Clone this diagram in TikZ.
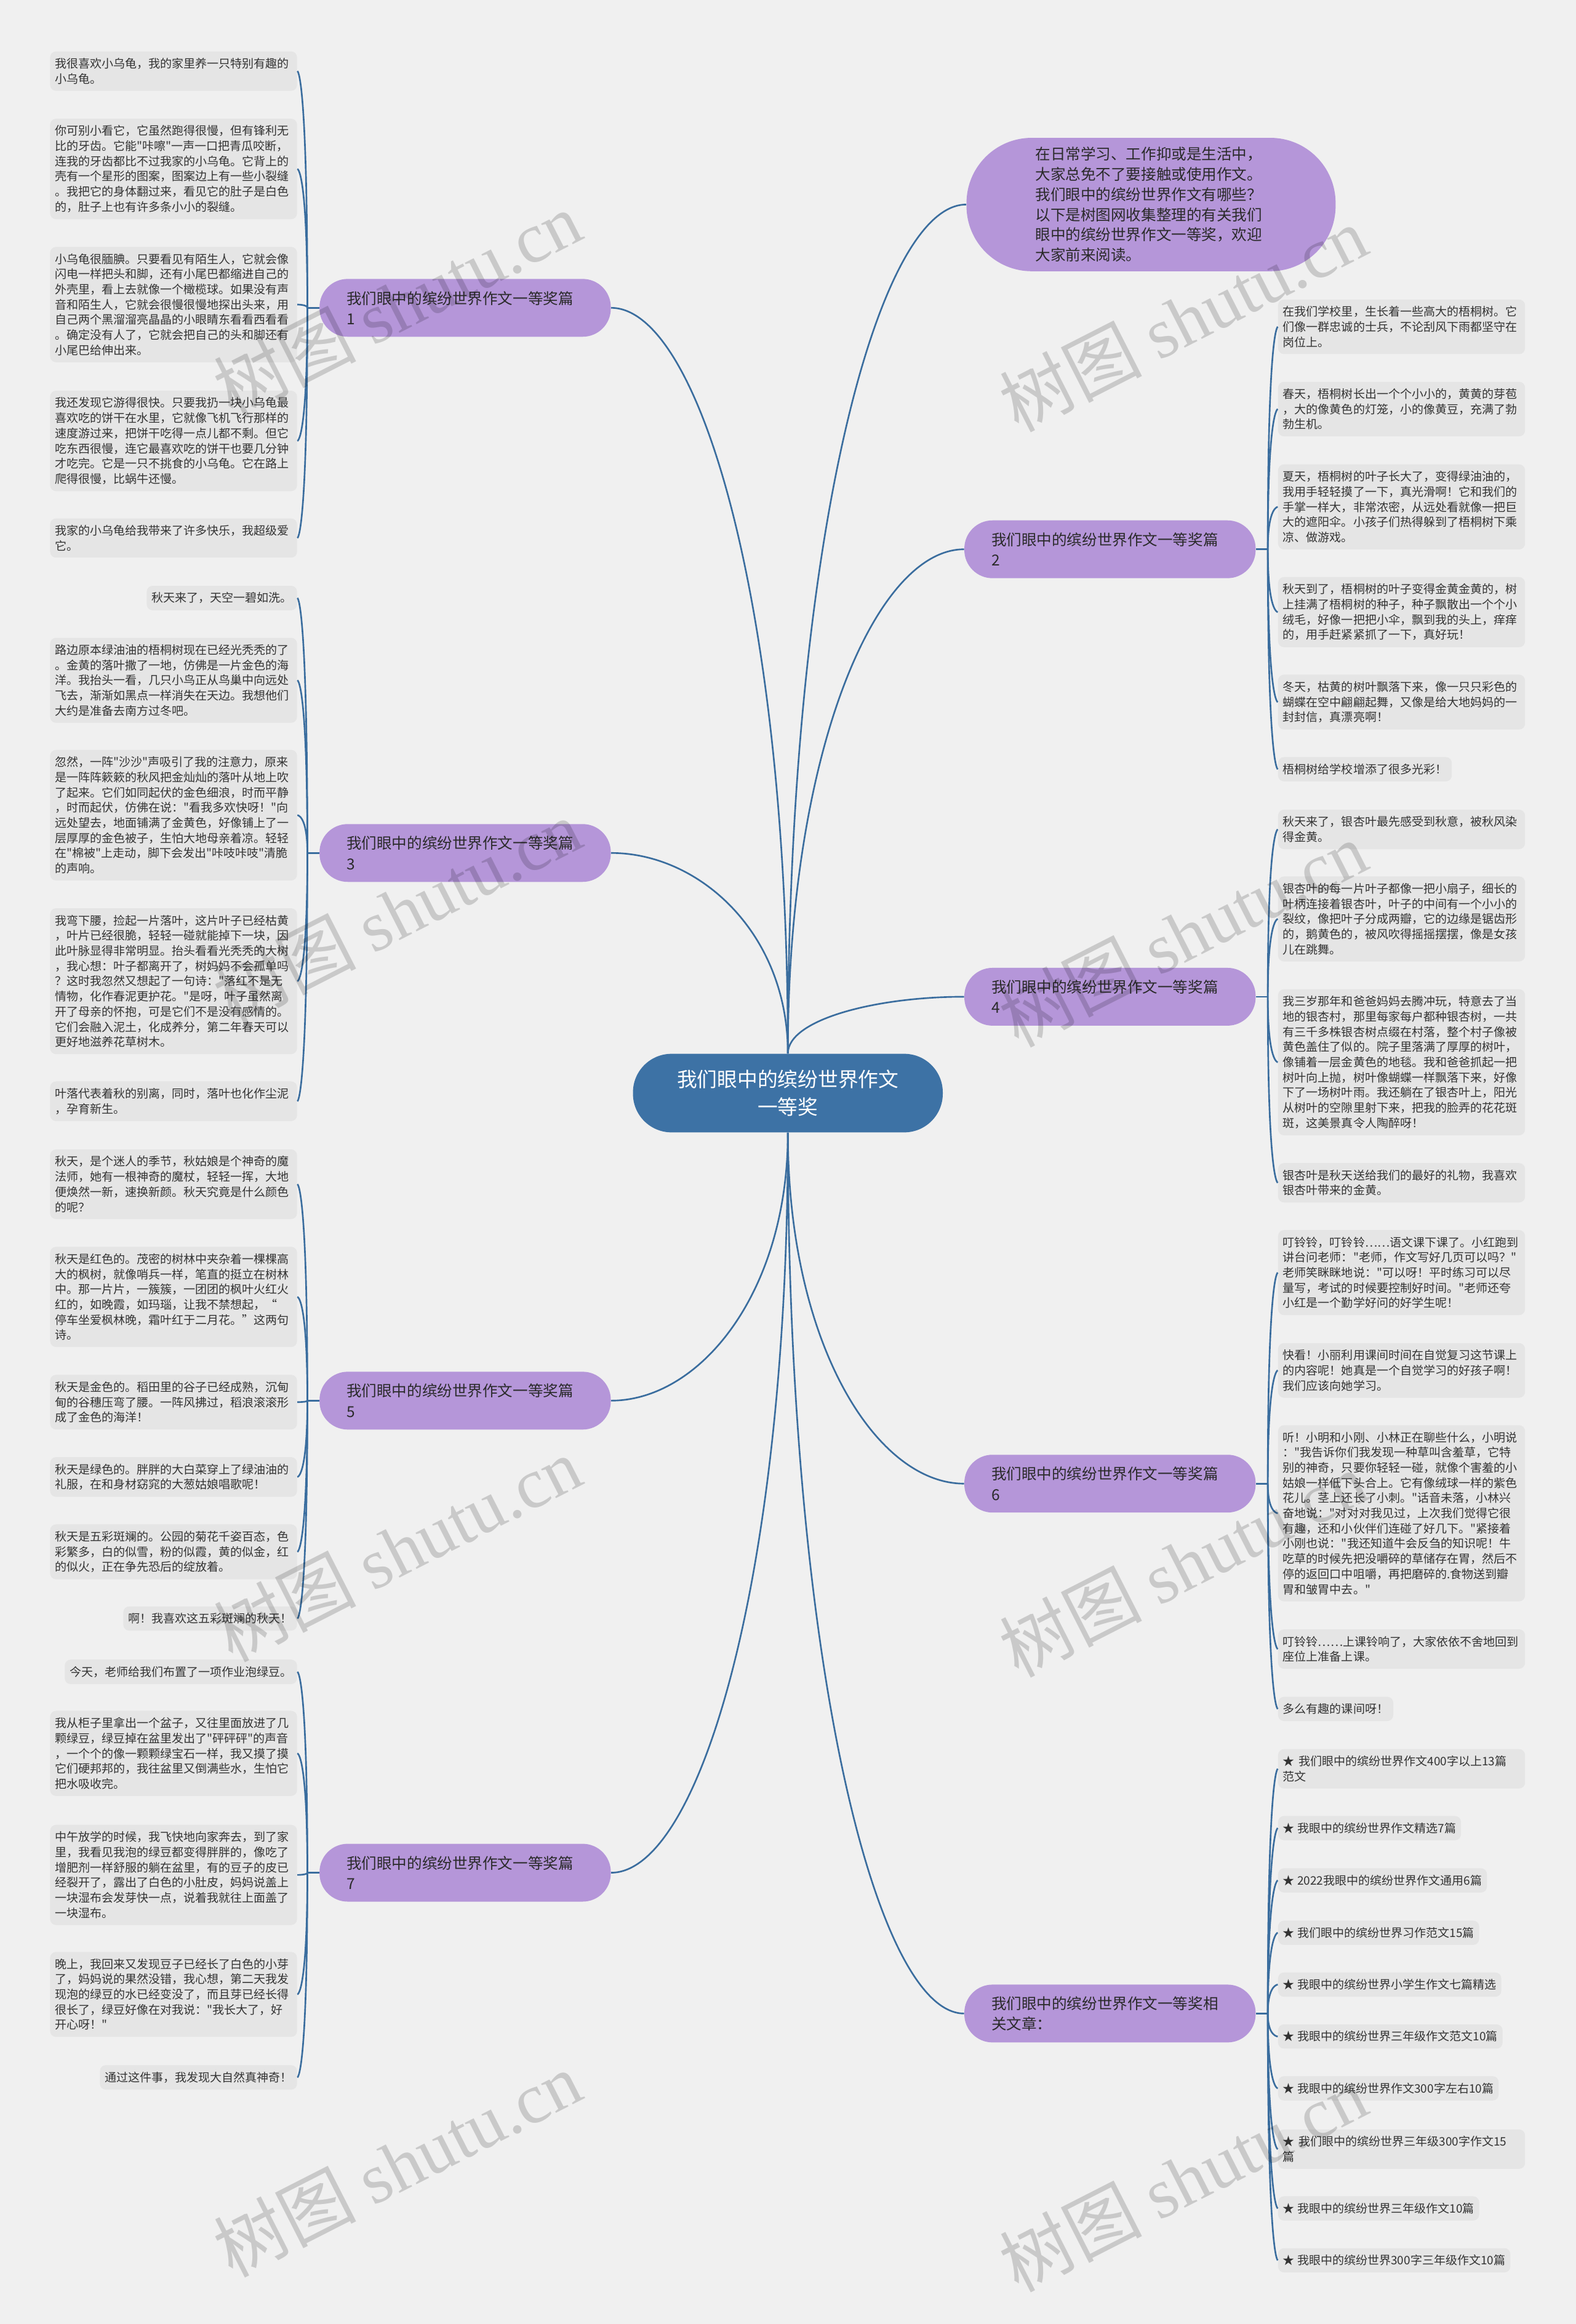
\documentclass[tikz,border=0pt]{standalone}
\usepackage{fontspec}
\setmainfont{Noto Sans CJK SC}[Ligatures=TeXOff]
\newfontfamily\latinserif{Liberation Serif}
\usepackage{tikz}
\usetikzlibrary{calc}
\definecolor{CanvasGray}{HTML}{F0F0F0}
\definecolor{LeafGray}{HTML}{E5E5E5}
\definecolor{TopicPurple}{HTML}{B596D9}
\definecolor{RootBlue}{HTML}{3D72A5}
\definecolor{LinkBlue}{HTML}{3A6D9E}
\definecolor{InkGray}{HTML}{333333}
\definecolor{TopicInk}{HTML}{2A2A2A}

\begin{document}
\begin{tikzpicture}[x=1pt, y=-1pt, every node/.style={inner sep=0pt},
  leaf/.style={fill=LeafGray, rounded corners=4pt, text=InkGray, align=left,
    font=\fontsize{7.9}{10.25}\selectfont, inner xsep=3.3pt, inner ysep=4.5pt},
  leafwide/.style={leaf, text width=160pt},
  topic/.style={fill=TopicPurple, rounded corners=19pt, text=TopicInk, align=left,
    font=\fontsize{10.2}{13.8}\selectfont, text width=160pt, inner xsep=18.25pt, minimum height=39pt},
  wire/.style={draw=LinkBlue, line width=1.1pt},
  link/.style={wire, to path={.. controls ($(\tikztostart)!0.6!(\tikztostart|-\tikztotarget)$) and ($(\tikztotarget)!0.5!(\tikztotarget-|\tikztostart)$) .. (\tikztotarget)}},
  leaflink/.style={wire, to path={.. controls (\tikztostart|-\tikztotarget) and (\tikztotarget) .. (\tikztotarget)}},
  stamp/.style={rotate=27, text=black, text opacity=0.16, font=\fontsize{48}{48}\selectfont}]
  \fill[CanvasGray] (0,0) rectangle (1063,1568);
  \useasboundingbox (0,0) rectangle (1063,1568);

  \node[fill=RootBlue, rounded corners=26pt, text=white, align=center, font=\fontsize{13.6}{18.5}\selectfont,
    minimum width=209pt, minimum height=53pt] (root) at (531.5,737.5) {我们眼中的缤纷世界作文\\一等奖};
  \node[topic, rounded corners=44pt, text width=156pt, inner xsep=46.5pt, minimum height=90pt,
    font=\fontsize{10.2}{13.6}\selectfont] (intro) at (776.5,138)
    {在日常学习、工作抑或是生活中，\\大家总免不了要接触或使用作文。\\我们眼中的缤纷世界作文有哪些？\\以下是树图网收集整理的有关我们\\眼中的缤纷世界作文一等奖，欢迎\\大家前来阅读。};

  \node[topic] (art1) at (313.8,207.7) {我们眼中的缤纷世界作文一等奖篇\\1};
  \node[topic] (art3) at (313.8,575.5) {我们眼中的缤纷世界作文一等奖篇\\3};
  \node[topic] (art5) at (313.8,945) {我们眼中的缤纷世界作文一等奖篇\\5};
  \node[topic] (art7) at (313.8,1263.5) {我们眼中的缤纷世界作文一等奖篇\\7};
  \node[topic] (art2) at (748.8,370.6) {我们眼中的缤纷世界作文一等奖篇\\2};
  \node[topic] (art4) at (748.8,672.5) {我们眼中的缤纷世界作文一等奖篇\\4};
  \node[topic] (art6) at (748.8,1001) {我们眼中的缤纷世界作文一等奖篇\\6};
  \node[topic] (rel) at (748.8,1358.5) {我们眼中的缤纷世界作文一等奖相\\关文章：};

  \node[leafwide, anchor=east] (t1a) at (200.6,48) {我很喜欢小乌龟，我的家里养一只特别有趣的\\小乌龟。};
  \node[leafwide, anchor=east] (t1b) at (200.6,114) {你可别小看它，它虽然跑得很慢，但有锋利无\\比的牙齿。它能"咔嚓"一声一口把青瓜咬断，\\连我的牙齿都比不过我家的小乌龟。它背上的\\壳有一个星形的图案，图案边上有一些小裂缝\\。我把它的身体翻过来，看见它的肚子是白色\\的，肚子上也有许多条小小的裂缝。};
  \node[leafwide, anchor=east] (t1c) at (200.6,205.5) {小乌龟很腼腆。只要看见有陌生人，它就会像\\闪电一样把头和脚，还有小尾巴都缩进自己的\\外壳里，看上去就像一个橄榄球。如果没有声\\音和陌生人，它就会很慢很慢地探出头来，用\\自己两个黑溜溜亮晶晶的小眼睛东看看西看看\\。确定没有人了，它就会把自己的头和脚还有\\小尾巴给伸出来。};
  \node[leafwide, anchor=east] (t1d) at (200.6,297.5) {我还发现它游得很快。只要我扔一块小乌龟最\\喜欢吃的饼干在水里，它就像飞机飞行那样的\\速度游过来，把饼干吃得一点儿都不剩。但它\\吃东西很慢，连它最喜欢吃的饼干也要几分钟\\才吃完。它是一只不挑食的小乌龟。它在路上\\爬得很慢，比蜗牛还慢。};
  \node[leafwide, anchor=east] (t1e) at (200.6,363) {我家的小乌龟给我带来了许多快乐，我超级爱\\它。};

  \node[leaf, anchor=east] (t3a) at (200.6,403.5) {秋天来了，天空一碧如洗。};
  \node[leafwide, anchor=east] (t3b) at (200.6,459) {路边原本绿油油的梧桐树现在已经光秃秃的了\\。金黄的落叶撒了一地，仿佛是一片金色的海\\洋。我抬头一看，几只小鸟正从鸟巢中向远处\\飞去，渐渐如黑点一样消失在天边。我想他们\\大约是准备去南方过冬吧。};
  \node[leafwide, anchor=east] (t3c) at (200.6,550) {忽然，一阵"沙沙"声吸引了我的注意力，原来\\是一阵阵簌簌的秋风把金灿灿的落叶从地上吹\\了起来。它们如同起伏的金色细浪，时而平静\\，时而起伏，仿佛在说："看我多欢快呀！"向\\远处望去，地面铺满了金黄色，好像铺上了一\\层厚厚的金色被子，生怕大地母亲着凉。轻轻\\在"棉被"上走动，脚下会发出"咔吱咔吱"清脆\\的声响。};
  \node[leafwide, anchor=east] (t3d) at (200.6,662) {我弯下腰，捡起一片落叶，这片叶子已经枯黄\\，叶片已经很脆，轻轻一碰就能掉下一块，因\\此叶脉显得非常明显。抬头看看光秃秃的大树\\，我心想：叶子都离开了，树妈妈不会孤单吗\\？这时我忽然又想起了一句诗："落红不是无\\情物，化作春泥更护花。"是呀，叶子虽然离\\开了母亲的怀抱，可是它们不是没有感情的。\\它们会融入泥土，化成养分，第二年春天可以\\更好地滋养花草树木。};
  \node[leafwide, anchor=east] (t3e) at (200.6,743) {叶落代表着秋的别离，同时，落叶也化作尘泥\\，孕育新生。};

  \node[leafwide, anchor=east] (t5a) at (200.6,799) {秋天，是个迷人的季节，秋姑娘是个神奇的魔\\法师，她有一根神奇的魔杖，轻轻一挥，大地\\便焕然一新，速换新颜。秋天究竟是什么颜色\\的呢？};
  \node[leafwide, anchor=east] (t5b) at (200.6,875) {秋天是红色的。茂密的树林中夹杂着一棵棵高\\大的枫树，就像哨兵一样，笔直的挺立在树林\\中。那一片片，一簇簇，一团团的枫叶火红火\\红的，如晚霞，如玛瑙，让我不禁想起，“\\停车坐爱枫林晚，霜叶红于二月花。”这两句\\诗。};
  \node[leafwide, anchor=east] (t5c) at (200.6,946) {秋天是金色的。稻田里的谷子已经成熟，沉甸\\甸的谷穗压弯了腰。一阵风拂过，稻浪滚滚形\\成了金色的海洋！};
  \node[leafwide, anchor=east] (t5d) at (200.6,996.5) {秋天是绿色的。胖胖的大白菜穿上了绿油油的\\礼服，在和身材窈窕的大葱姑娘唱歌呢！};
  \node[leafwide, anchor=east] (t5e) at (200.6,1047) {秋天是五彩斑斓的。公园的菊花千姿百态，色\\彩繁多，白的似雪，粉的似霞，黄的似金，红\\的似火，正在争先恐后的绽放着。};
  \node[leaf, anchor=east] (t5f) at (200.6,1092) {啊！我喜欢这五彩斑斓的秋天！};

  \node[leaf, anchor=east] (t7a) at (200.6,1128) {今天，老师给我们布置了一项作业泡绿豆。};
  \node[leafwide, anchor=east] (t7b) at (200.6,1183) {我从柜子里拿出一个盆子，又往里面放进了几\\颗绿豆，绿豆掉在盆里发出了"砰砰砰"的声音\\，一个个的像一颗颗绿宝石一样，我又摸了摸\\它们硬邦邦的，我往盆里又倒满些水，生怕它\\把水吸收完。};
  \node[leafwide, anchor=east] (t7c) at (200.6,1265) {中午放学的时候，我飞快地向家奔去，到了家\\里，我看见我泡的绿豆都变得胖胖的，像吃了\\增肥剂一样舒服的躺在盆里，有的豆子的皮已\\经裂开了，露出了白色的小肚皮，妈妈说盖上\\一块湿布会发芽快一点，说着我就往上面盖了\\一块湿布。};
  \node[leafwide, anchor=east] (t7d) at (200.6,1345.6) {晚上，我回来又发现豆子已经长了白色的小芽\\了，妈妈说的果然没错，我心想，第二天我发\\现泡的绿豆的水已经变没了，而且芽已经长得\\很长了，绿豆好像在对我说："我长大了，好\\开心呀！"};
  \node[leaf, anchor=east] (t7e) at (200.6,1401.6) {通过这件事，我发现大自然真神奇！};

  \node[leafwide, anchor=west] (t2a) at (862,220.5) {在我们学校里，生长着一些高大的梧桐树。它\\们像一群忠诚的士兵，不论刮风下雨都坚守在\\岗位上。};
  \node[leafwide, anchor=west] (t2b) at (862,276) {春天，梧桐树长出一个个小小的，黄黄的芽苞\\，大的像黄色的灯笼，小的像黄豆，充满了勃\\勃生机。};
  \node[leafwide, anchor=west] (t2c) at (862,342) {夏天，梧桐树的叶子长大了，变得绿油油的，\\我用手轻轻摸了一下，真光滑啊！它和我们的\\手掌一样大，非常浓密，从远处看就像一把巨\\大的遮阳伞。小孩子们热得躲到了梧桐树下乘\\凉、做游戏。};
  \node[leafwide, anchor=west] (t2d) at (862,413) {秋天到了，梧桐树的叶子变得金黄金黄的，树\\上挂满了梧桐树的种子，种子飘散出一个个小\\绒毛，好像一把把小伞，飘到我的头上，痒痒\\的，用手赶紧紧抓了一下，真好玩！};
  \node[leafwide, anchor=west] (t2e) at (862,473.7) {冬天，枯黄的树叶飘落下来，像一只只彩色的\\蝴蝶在空中翩翩起舞，又像是给大地妈妈的一\\封封信，真漂亮啊！};
  \node[leaf, anchor=west] (t2f) at (862,519) {梧桐树给学校增添了很多光彩！};

  \node[leafwide, anchor=west] (t4a) at (862,559.6) {秋天来了，银杏叶最先感受到秋意，被秋风染\\得金黄。};
  \node[leafwide, anchor=west] (t4b) at (862,620) {银杏叶的每一片叶子都像一把小扇子，细长的\\叶柄连接着银杏叶，叶子的中间有一个小小的\\裂纹，像把叶子分成两瓣，它的边缘是锯齿形\\的，鹅黄色的，被风吹得摇摇摆摆，像是女孩\\儿在跳舞。};
  \node[leafwide, anchor=west] (t4c) at (862,716.7) {我三岁那年和爸爸妈妈去腾冲玩，特意去了当\\地的银杏村，那里每家每户都种银杏树，一共\\有三千多株银杏树点缀在村落，整个村子像被\\黄色盖住了似的。院子里落满了厚厚的树叶，\\像铺着一层金黄色的地毯。我和爸爸抓起一把\\树叶向上抛，树叶像蝴蝶一样飘落下来，好像\\下了一场树叶雨。我还躺在了银杏叶上，阳光\\从树叶的空隙里射下来，把我的脸弄的花花斑\\斑，这美景真令人陶醉呀！};
  \node[leafwide, anchor=west] (t4d) at (862,798) {银杏叶是秋天送给我们的最好的礼物，我喜欢\\银杏叶带来的金黄。};

  \node[leafwide, anchor=west] (t6a) at (862,858.6) {叮铃铃，叮铃铃……语文课下课了。小红跑到\\讲台问老师："老师，作文写好几页可以吗？"\\老师笑眯眯地说："可以呀！平时练习可以尽\\量写，考试的时候要控制好时间。"老师还夸\\小红是一个勤学好问的好学生呢！};
  \node[leafwide, anchor=west] (t6b) at (862,924.6) {快看！小丽利用课间时间在自觉复习这节课上\\的内容呢！她真是一个自觉学习的好孩子啊！\\我们应该向她学习。};
  \node[leafwide, anchor=west] (t6c) at (862,1021) {听！小明和小刚、小林正在聊些什么，小明说\\："我告诉你们我发现一种草叫含羞草，它特\\别的神奇，只要你轻轻一碰，就像个害羞的小\\姑娘一样低下头合上。它有像绒球一样的紫色\\花儿。茎上还长了小刺。"话音未落，小林兴\\奋地说："对对对我见过，上次我们觉得它很\\有趣，还和小伙伴们连碰了好几下。"紧接着\\小刚也说："我还知道牛会反刍的知识呢！牛\\吃草的时候先把没嚼碎的草储存在胃，然后不\\停的返回口中咀嚼，再把磨碎的.食物送到瓣\\胃和皱胃中去。"};
  \node[leafwide, anchor=west] (t6d) at (862,1112.6) {叮铃铃……上课铃响了，大家依依不舍地回到\\座位上准备上课。};
  \node[leaf, anchor=west] (t6e) at (862,1153) {多么有趣的课间呀！};

  \node[leafwide, anchor=west] (t8a) at (862,1193.4) {★ 我们眼中的缤纷世界作文400字以上13篇\\范文};
  \node[leaf, anchor=west] (t8b) at (862,1233.4) {★ 我眼中的缤纷世界作文精选7篇};
  \node[leaf, anchor=west] (t8c) at (862,1268.7) {★ 2022我眼中的缤纷世界作文通用6篇};
  \node[leaf, anchor=west] (t8d) at (862,1304) {★ 我们眼中的缤纷世界习作范文15篇};
  \node[leaf, anchor=west] (t8e) at (862,1339) {★ 我眼中的缤纷世界小学生作文七篇精选};
  \node[leaf, anchor=west] (t8f) at (862,1374) {★ 我眼中的缤纷世界三年级作文范文10篇};
  \node[leaf, anchor=west] (t8g) at (862,1409) {★ 我眼中的缤纷世界作文300字左右10篇};
  \node[leafwide, anchor=west] (t8h) at (862,1450) {★ 我们眼中的缤纷世界三年级300字作文15\\篇};
  \node[leaf, anchor=west] (t8i) at (862,1490) {★ 我眼中的缤纷世界三年级作文10篇};
  \node[leaf, anchor=west] (t8j) at (862,1525) {★ 我眼中的缤纷世界300字三年级作文10篇};

  \draw[link] (root.north) to (intro.west);
  \draw[link] (root.north) to (art1.east);
  \draw[link] (root.north) to (art2.west);
  \draw[link] (root.north) to (art3.east);
  \draw[link] (root.north) to (art4.west);
  \draw[link] (root.south) to (art5.east);
  \draw[link] (root.south) to (art6.west);
  \draw[link] (root.south) to (art7.east);
  \draw[link] (root.south) to (rel.west);

  \foreach \b in {1,3,5,7} {
    \coordinate (j\b) at ($(art\b.west)+(-8,0)$);
    \draw[wire] (art\b.west) -- (j\b);
  }
  \foreach \b in {2,4,6} {
    \coordinate (j\b) at ($(art\b.east)+(8,0)$);
    \draw[wire] (art\b.east) -- (j\b);
  }
  \coordinate (j8) at ($(rel.east)+(8,0)$);
  \draw[wire] (rel.east) -- (j8);

  \foreach \k in {a,b,c,d,e} \draw[leaflink] (j1) to (t1\k.east);
  \foreach \k in {a,b,c,d,e} \draw[leaflink] (j3) to (t3\k.east);
  \foreach \k in {a,b,c,d,e,f} \draw[leaflink] (j5) to (t5\k.east);
  \foreach \k in {a,b,c,d,e} \draw[leaflink] (j7) to (t7\k.east);
  \foreach \k in {a,b,c,d,e,f} \draw[leaflink] (j2) to (t2\k.west);
  \foreach \k in {a,b,c,d} \draw[leaflink] (j4) to (t4\k.west);
  \foreach \k in {a,b,c,d,e} \draw[leaflink] (j6) to (t6\k.west);
  \foreach \k in {a,b,c,d,e,f,g,h,i,j} \draw[leaflink] (j8) to (t8\k.west);

  \foreach \wx/\wy [count=\i] in {268/205, 798/215, 268/615, 798/630, 268/1045, 798/1055, 268/1460, 798/1470}
    \node[stamp] (mark\i) at (\wx,\wy) {树图 {\latinserif shutu.cn}};
\end{tikzpicture}
\end{document}
